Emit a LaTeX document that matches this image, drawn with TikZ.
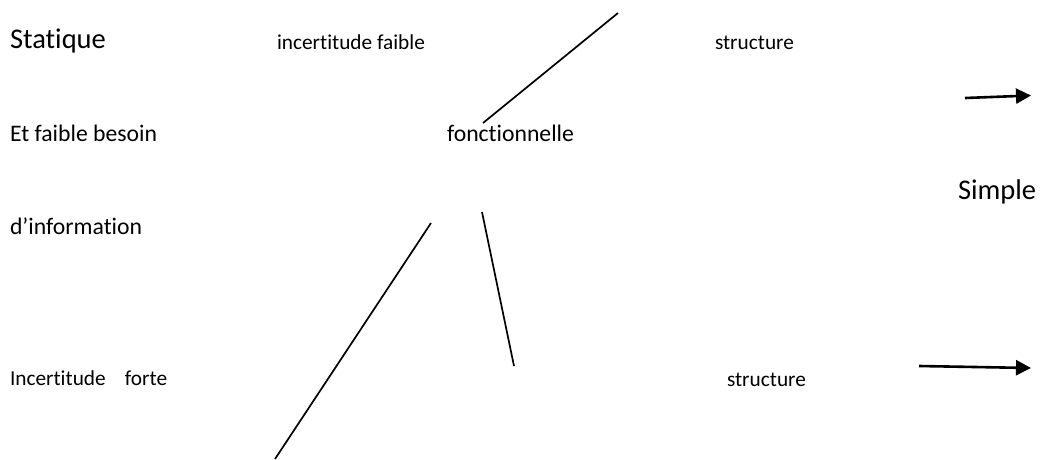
\documentclass[tikz,border=0pt]{standalone}
\usepackage{fontspec}
\setmainfont{Carlito}[Ligatures={NoCommon}]
\usetikzlibrary{arrows.meta}
\tikzset{
  lbl/.style={anchor=base west, inner sep=0pt, outer sep=0pt, text=black},
  big/.style={lbl, font=\fontsize{28.5}{30}\selectfont},
  mid/.style={lbl, font=\fontsize{23.7}{26}\selectfont},
  small/.style={lbl, font=\fontsize{21.3}{24}\selectfont},
  seg/.style={line width=1.7pt, black},
  arr/.style={line width=2.6pt, black, -{Triangle[length=15pt,width=15pt]}}
}
\begin{document}
\begin{tikzpicture}[x=1pt,y=-1pt]
\useasboundingbox (0,0) rectangle (1041,459);
\node[big]   (statique) at (10,48)  {Statique};
\node[small] (incf)     at (277,49) {incertitude faible};
\node[small] (struct1)  at (715,49) {structure};
\node[mid]   (besoin)   at (10,141) {Et faible besoin};
\node[mid]   (fonct)    at (447,141) {fonctionnelle};
\node[mid]   (info)     at (10,234) {d’information};
\node[big]   (simple)   at (958,199) {Simple};
\node[small] (incfo)    at (10,385) {Incertitude\hspace{0.9em}forte};
\node[small] (struct2)  at (727,386) {structure};

\coordinate (l1a) at (483,123);
\coordinate (l1b) at (618,13);
\coordinate (l2a) at (431,223);
\coordinate (l2b) at (275,459);
\coordinate (l3a) at (482,212);
\coordinate (l3b) at (514,366);
\coordinate (a1a) at (965,98);
\coordinate (a1b) at (1031,95.5);
\coordinate (a2a) at (919,366);
\coordinate (a2b) at (1031,368);

\draw[seg] (l1a) -- (l1b);
\draw[seg] (l2a) -- (l2b);
\draw[seg] (l3a) -- (l3b);
\draw[arr] (a1a) -- (a1b);
\draw[arr] (a2a) -- (a2b);
\end{tikzpicture}
\end{document}
